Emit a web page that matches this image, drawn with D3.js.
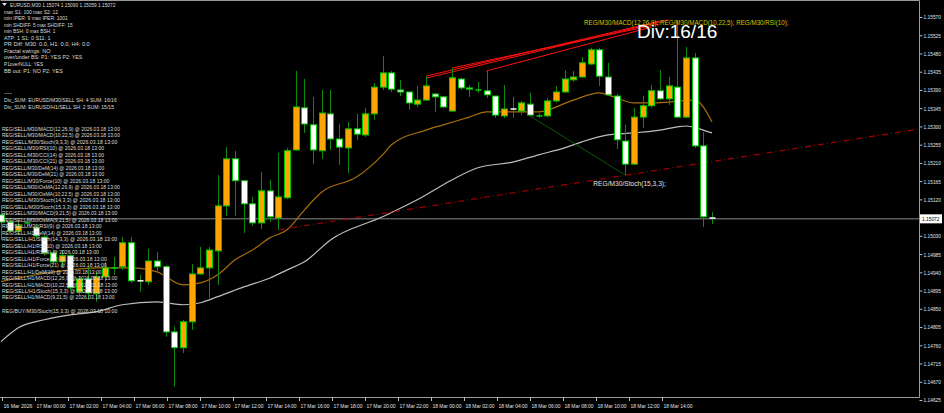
<!DOCTYPE html>
<html><head><meta charset="utf-8">
<script src="https://cdn.jsdelivr.net/npm/d3@7"></script>
<style>html,body{margin:0;padding:0;background:#000;}svg{display:block;}</style>
</head><body>
<svg id="c" width="944" height="413"></svg>
<script>
// ---- DATA ----
const opens  = [1.15082,1.15064,1.15042,1.15062,1.15050,1.15027,1.14988,1.14966,1.14981,1.14892,1.14924,1.14887,1.14929,1.14951,1.14954,1.15013,1.14919,1.14917,1.14968,1.14954,1.14793,1.14754,1.14818,1.14936,1.14951,1.14993,1.15104,1.15220,1.15166,1.15109,1.15062,1.15141,1.15074,1.15124,1.15242,1.15346,1.15304,1.15240,1.15331,1.15269,1.15247,1.15294,1.15279,1.15331,1.15397,1.15432,1.15390,1.15385,1.15355,1.15365,1.15380,1.15373,1.15338,1.15417,1.15395,1.15390,1.15388,1.15375,1.15326,1.15343,1.15338,1.15355,1.15326,1.15326,1.15363,1.15385,1.15415,1.15422,1.15454,1.15489,1.15422,1.15375,1.15264,1.15207,1.15323,1.15351,1.15388,1.15368,1.15397,1.15323,1.15469,1.15252,1.15074];
const highs  = [1.15106,1.15074,1.15064,1.15072,1.15057,1.15032,1.14995,1.14995,1.14986,1.14931,1.14954,1.14941,1.14966,1.14978,1.15027,1.15027,1.14934,1.14998,1.14990,1.14958,1.14806,1.14823,1.14961,1.15003,1.15003,1.15180,1.15249,1.15240,1.15166,1.15126,1.15188,1.15168,1.15235,1.15247,1.15437,1.15417,1.15373,1.15390,1.15390,1.15306,1.15311,1.15331,1.15346,1.15407,1.15474,1.15437,1.15415,1.15385,1.15400,1.15424,1.15383,1.15375,1.15444,1.15420,1.15402,1.15410,1.15437,1.15375,1.15402,1.15373,1.15363,1.15383,1.15333,1.15370,1.15400,1.15439,1.15437,1.15471,1.15494,1.15494,1.15457,1.15380,1.15304,1.15346,1.15375,1.15402,1.15439,1.15422,1.15563,1.15496,1.15481,1.15286,1.15089];
const lows   = [1.15020,1.15037,1.15035,1.15052,1.15025,1.14981,1.14958,1.14954,1.14897,1.14882,1.14872,1.14867,1.14917,1.14934,1.14946,1.14914,1.14892,1.14909,1.14941,1.14781,1.14658,1.14741,1.14798,1.14934,1.14877,1.14909,1.15079,1.15079,1.15037,1.15055,1.15047,1.15064,1.15045,1.15121,1.15240,1.15284,1.15207,1.15220,1.15242,1.15205,1.15185,1.15267,1.15274,1.15316,1.15390,1.15385,1.15375,1.15341,1.15348,1.15363,1.15336,1.15346,1.15336,1.15390,1.15373,1.15383,1.15370,1.15321,1.15321,1.15321,1.15328,1.15326,1.15321,1.15323,1.15358,1.15383,1.15410,1.15420,1.15452,1.15400,1.15375,1.15244,1.15180,1.15205,1.15296,1.15346,1.15365,1.15353,1.15321,1.15321,1.15247,1.15052,1.15059];
const closes = [1.15064,1.15042,1.15055,1.15062,1.15030,1.14988,1.14966,1.14981,1.14902,1.14924,1.14889,1.14929,1.14951,1.14951,1.15013,1.14919,1.14917,1.14968,1.14954,1.14793,1.14754,1.14818,1.14936,1.14951,1.14995,1.15104,1.15220,1.15166,1.15109,1.15062,1.15141,1.15077,1.15126,1.15240,1.15348,1.15306,1.15242,1.15333,1.15269,1.15249,1.15294,1.15281,1.15331,1.15397,1.15432,1.15392,1.15385,1.15358,1.15365,1.15400,1.15373,1.15348,1.15420,1.15395,1.15392,1.15390,1.15378,1.15328,1.15343,1.15341,1.15358,1.15328,1.15326,1.15363,1.15385,1.15417,1.15422,1.15457,1.15489,1.15424,1.15378,1.15267,1.15207,1.15323,1.15351,1.15388,1.15368,1.15400,1.15323,1.15469,1.15252,1.15077,1.15072];

const maFastIdx = [0,4,8,11,15,18,21,23,25,27,29,31,33,35,37,41,44,45,49,51,54,56,59,62,66,69,71,73,75,77,80,82];
const maFastVal = [1.14917,1.14934,1.14946,1.14951,1.14951,1.14941,1.14909,1.14914,1.14934,1.14971,1.14995,1.15025,1.15045,1.15094,1.15138,1.15175,1.15230,1.15254,1.15291,1.15304,1.15323,1.15336,1.15336,1.15336,1.15365,1.15383,1.15370,1.15358,1.15358,1.15360,1.15365,1.15311];
const maSlowIdx = [0,2,5,8,11,14,18,19,21,23,25,28,31,33,35,38,44,48,52,55,59,62,65,67,70,73,76,78,79,81,82];
const maSlowVal = [1.14769,1.14803,1.14823,1.14835,1.14843,1.14860,1.14867,1.14865,1.14860,1.14865,1.14880,1.14904,1.14926,1.14946,1.14966,1.15020,1.15077,1.15119,1.15168,1.15198,1.15212,1.15230,1.15247,1.15262,1.15279,1.15284,1.15291,1.15299,1.15301,1.15291,1.15284];

const trendIdx = [32,106];
const trendVal = [1.15045,1.15294];
const divRedStartIdx = [49,49,52,56];
const divRedStartVal = [1.15424,1.15419,1.15444,1.15437];
const divRedEndIdx   = [76,77,76,75];
const divRedEndVal   = [1.15560,1.15563,1.15553,1.15545];
const divGreenIdx = [61,72];
const divGreenVal = [1.15326,1.15180];

const lastPrice = 1.15072;
const priceTicks = [1.15570,1.15525,1.15480,1.15435,1.15390,1.15345,1.15300,1.15255,1.15210,1.15165,1.15120,1.15030,1.14985,1.14940,1.14895,1.14850,1.14805,1.14760,1.14715,1.14670,1.14625];
const timeHours  = [-2,0,2,4,6,8,10,12,14,16,18,20,22,24,26,28,30,32,34,36,38];
const timeLabels = ["16 Mar 2026","17 Mar 00:00","17 Mar 02:00","17 Mar 04:00","17 Mar 06:00","17 Mar 08:00","17 Mar 10:00","17 Mar 12:00","17 Mar 14:00","17 Mar 16:00","17 Mar 18:00","17 Mar 20:00","17 Mar 22:00","18 Mar 00:00","18 Mar 02:00","18 Mar 04:00","18 Mar 06:00","18 Mar 08:00","18 Mar 10:00","18 Mar 12:00","18 Mar 14:00"];

const infoLines = ["EURUSD,M30  1.15074 1.15090 1.15059 1.15072","max S1: 100 max S2: 12","min IPER: 9 max IPER: 1001","min SHDIFF: 5 max SHDIFF: 15","min BSH: 0 max BSH: 1","ATP: 1 S1: 0 S11: 1","PR Diff: M30: 0.0, H1: 0.0, H4: 0.0","Fractal swings:  NO","over/under BS:  P1: YES  P2: YES","P1overNULL:  YES","BB out:  P1: NO  P2: YES"];
const sumLines = ["---","Div_SUM: EURUSD/M30/SELL SH: 4 SUM: 16/16","Div_SUM: EURUSD/H1/SELL SH: 2 SUM: 15/15"];
const regLines = ["REG/SELL/M30/MACD(12,26,9)","REG/SELL/M30/MACD(10,22,5)","REG/SELL/M30/Stoch(9,3,3)","REG/SELL/M30/RSI(10)","REG/SELL/M30/CCI(14)","REG/SELL/M30/CCI(21)","REG/SELL/M30/DeM(14)","REG/SELL/M30/DeM(21)","REG/SELL/M30/Force(10)","REG/SELL/M30/OsMA(12,26,9)","REG/SELL/M30/OsMA(10,22,5)","REG/SELL/M30/Stoch(14,3,3)","REG/SELL/M30/Stoch(15,3,3)","REG/SELL/M30/MACD(9,21,5)","REG/SELL/M30/OsMA(9,21,5)","REG/SELL/M30/RSI(9)","REG/SELL/H1/DeM(14)","REG/SELL/H1/Stoch(14,3,3)","REG/SELL/H1/RSI(10)","REG/SELL/H1/RSI(9)","REG/SELL/H1/Force(10)","REG/SELL/H1/Force(21)","REG/SELL/H1/DeM(10)","REG/SELL/H1/MACD(12,26,9)","REG/SELL/H1/MACD(10,22,5)","REG/SELL/H1/Stoch(15,3,3)","REG/SELL/H1/MACD(9,21,5)"];
const regStamp = " @ 2026.03.18 13:00";
const buyLine = "REG/BUY/M30/Stoch(15,3,3) @ 2026.03.18 10:00";
const topSignal = "REG/M30/MACD(12,26,9); REG/M30/MACD(10,22,5); REG/M30/RSI(10);";
const divText = "Div:16/16";
const stochText = "REG/M30/Stoch(15,3,3);";

// ---- DRAW ----
const svg = d3.select("#c");
const W=944,H=413, plotR=919, plotB=397;
svg.append("rect").attr("width",W).attr("height",H).attr("fill","#000");
const x = d3.scaleLinear().domain([0,82]).range([1,712]);
const y = d3.scaleLinear().domain([1.14625,1.15570]).range([400,17]);
const tx = d3.scaleLinear().domain([0,38]).range([35,662]);
const font = "Liberation Sans, Arial, sans-serif";
const fit = (sel, perChar) => sel.each(function(){ const t=this.textContent; d3.select(this).attr("textLength", t.length*perChar).attr("lengthAdjust","spacingAndGlyphs"); });

const plot = svg.append("g");
plot.append("clipPath").attr("id","pc").append("rect").attr("x",0).attr("y",0).attr("width",plotR).attr("height",plotB);
const g = plot.append("g").attr("clip-path","url(#pc)");

g.append("line").attr("x1",0).attr("x2",plotR).attr("y1",y(lastPrice)).attr("y2",y(lastPrice)).attr("stroke","#8a8a8a").attr("stroke-width",1);

const line = d3.line().x(d=>x(d[0])).y(d=>y(d[1])).curve(d3.curveMonotoneX);
g.append("path").datum(maSlowIdx.map((v,i)=>[v,maSlowVal[i]])).attr("d",line).attr("fill","none").attr("stroke","#bdbdbd").attr("stroke-width",1.2);
g.append("path").datum(maFastIdx.map((v,i)=>[v,maFastVal[i]])).attr("d",line).attr("fill","none").attr("stroke","#a86d0a").attr("stroke-width",1.2);

g.append("line").attr("x1",x(trendIdx[0])).attr("y1",y(trendVal[0])).attr("x2",x(trendIdx[1])).attr("y2",y(trendVal[1]))
 .attr("stroke","#a00000").attr("stroke-width",1.2).attr("stroke-dasharray","6,3,1,3");

g.append("line").attr("x1",x(divGreenIdx[0])).attr("y1",y(divGreenVal[0])).attr("x2",x(divGreenIdx[1])).attr("y2",y(divGreenVal[1])).attr("stroke","#0a5a0a").attr("stroke-width",1);
divRedStartIdx.forEach((s,i)=>{
  g.append("line").attr("x1",x(s)).attr("y1",y(divRedStartVal[i])).attr("x2",x(divRedEndIdx[i])).attr("y2",y(divRedEndVal[i])).attr("stroke","#ff1010").attr("stroke-width",1);
});

const bw = 6;
const cg = g.append("g");
opens.forEach((o,i)=>{
  const c = closes[i], cx = Math.round(x(i))+0.5;
  cg.append("line").attr("x1",cx).attr("x2",cx).attr("y1",y(highs[i])).attr("y2",y(lows[i])).attr("stroke","#0f8a0f").attr("stroke-width",1);
  const top = y(Math.max(o,c)), bot = y(Math.min(o,c));
  const h = Math.max(bot-top,1);
  if (Math.abs(o-c) < 0.000025) {
    cg.append("line").attr("x1",cx-bw/2).attr("x2",cx+bw/2).attr("y1",top).attr("y2",top).attr("stroke",c>=o?"#00d000":"#ffffff").attr("stroke-width",1.5);
  } else {
    cg.append("rect").attr("x",cx-bw/2).attr("y",top).attr("width",bw).attr("height",h)
      .attr("fill", c>o ? "#ffa500" : "#ffffff").attr("stroke","#00c800").attr("stroke-width",1);
  }
});

// annotations
fit(svg.append("text").attr("x",x(divGreenIdx[1])-32).attr("y",y(divGreenVal[1])+11).text(stochText)
  .attr("fill","#e0e0e0").attr("font-family",font).attr("font-size",6.5), 3.3);
fit(svg.append("text").attr("x",584).attr("y",25).text(topSignal).attr("fill","#c8c800").attr("font-family",font).attr("font-size",6.5), 3.3);
svg.append("text").attr("x",637).attr("y",38).text(divText).attr("fill","#ffffff").attr("font-family",font).attr("font-size",19);

// info text
const tf = svg.append("g").attr("font-family",font).attr("font-size",6).attr("fill","#dcdcdc");
svg.append("path").attr("d","M2,3 L7,3 L4.5,6 Z").attr("fill","#dcdcdc");
fit(tf.selectAll(null).data(infoLines).enter().append("text").attr("x",(d,i)=>i===0?10:4).attr("y",(d,i)=>7+i*6.55).text(d=>d), 2.45);
fit(tf.selectAll(null).data(sumLines).enter().append("text").attr("x",4).attr("y",(d,i)=>95+i*6.8).text(d=>d), 2.75);
fit(tf.selectAll(null).data(regLines).enter().append("text").attr("x",2).attr("y",(d,i)=>131+i*6.48).text(d=>d+regStamp), 2.62);
fit(tf.append("text").attr("x",2).attr("y",313).text(buyLine), 2.62);

// borders
svg.append("path").attr("d",`M0.5,0.5 H${plotR+0.5} V${plotB+0.5} H0`).attr("fill","none").attr("stroke","#9a9a9a").attr("stroke-width",1);

// right axis
const ya = d3.axisRight(y).tickValues(priceTicks).tickSize(3).tickFormat(d3.format(".5f"));
const yag = svg.append("g").attr("transform",`translate(${plotR+0.5},0)`).call(ya);
yag.select(".domain").remove();
yag.selectAll("line").attr("stroke","#bbb");
yag.selectAll("text").attr("fill","#e0e0e0").attr("font-family",font).attr("font-size",6).attr("x",4)
  .attr("textLength",17.5).attr("lengthAdjust","spacingAndGlyphs");
svg.append("rect").attr("x",plotR+1).attr("y",y(lastPrice)-4.5).attr("width",22).attr("height",9).attr("fill","#fff");
svg.append("text").attr("x",plotR+3).attr("y",y(lastPrice)+2.3).text(d3.format(".5f")(lastPrice)).attr("fill","#000").attr("font-family",font).attr("font-size",6)
  .attr("textLength",17.5).attr("lengthAdjust","spacingAndGlyphs");

// bottom axis
const xa = svg.append("g").attr("font-family",font).attr("font-size",6).attr("fill","#e0e0e0");
timeHours.forEach((h,i)=>{
  const px = Math.round(tx(h))+0.5;
  xa.append("line").attr("x1",px).attr("x2",px).attr("y1",plotB).attr("y2",plotB+4).attr("stroke","#bbb");
  xa.append("text").attr("x",px+1).attr("y",408).text(timeLabels[i]).attr("textLength",29).attr("lengthAdjust","spacingAndGlyphs");
});
</script>
</body></html>
